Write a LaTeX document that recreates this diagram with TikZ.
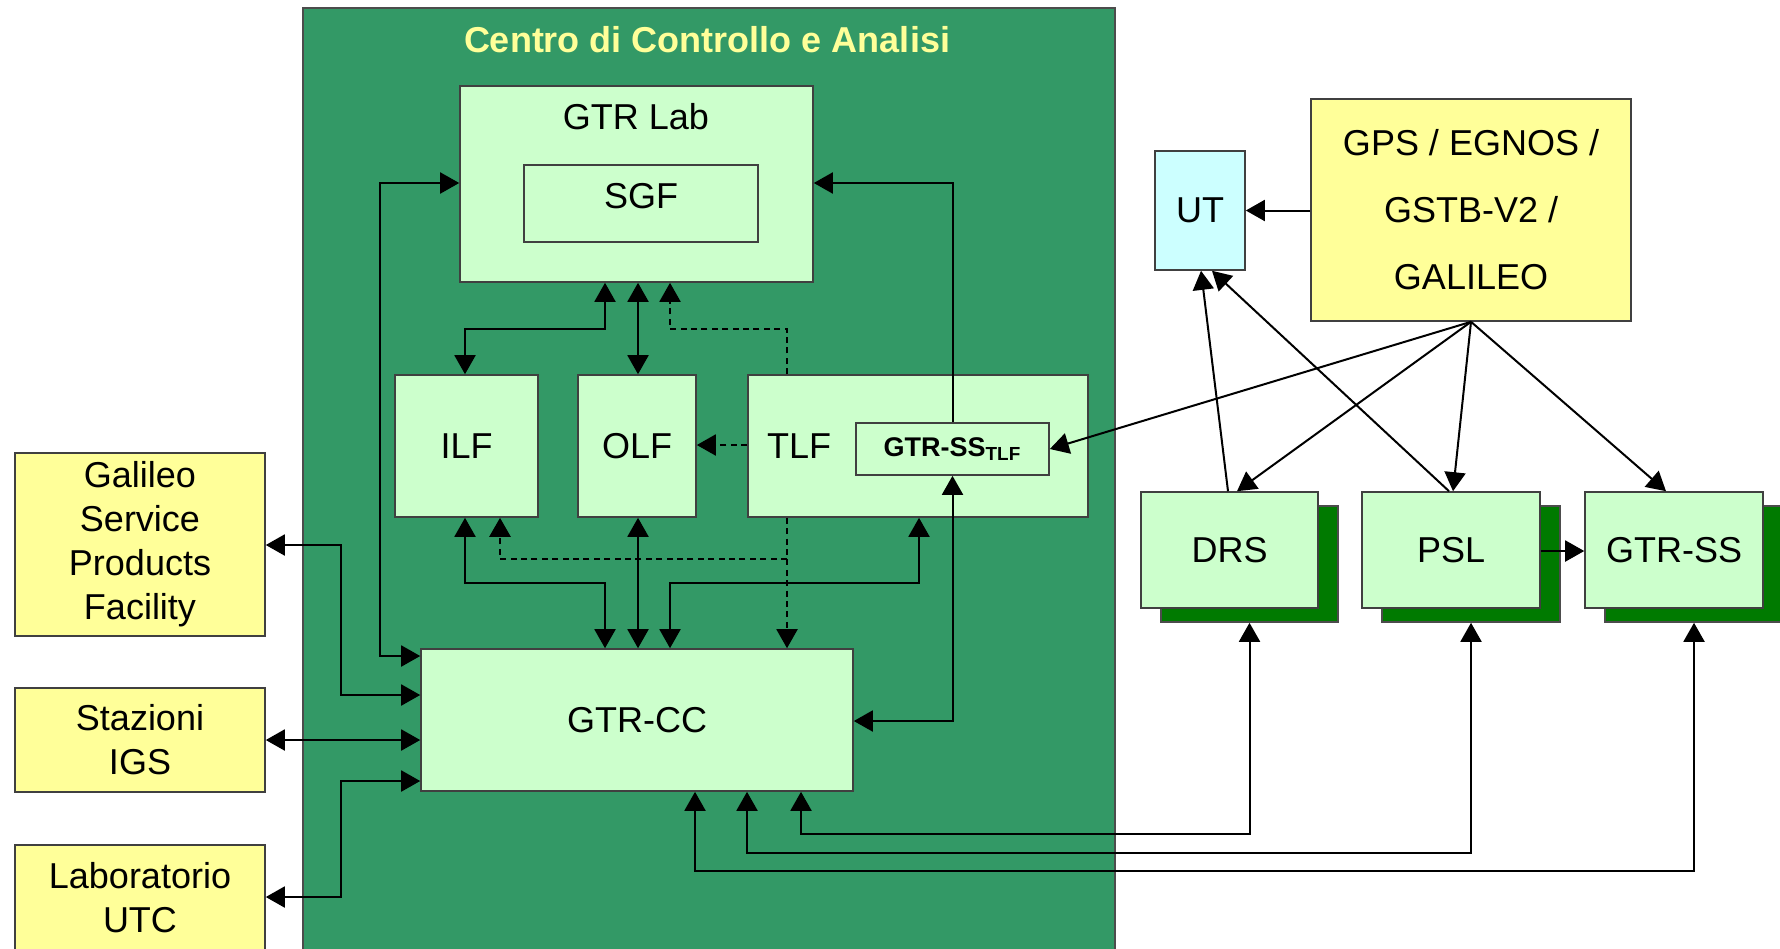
\documentclass[tikz,border=0pt]{standalone}
\usepackage{fontspec}
\setmainfont{Liberation Sans}
\usetikzlibrary{arrows.meta}
\definecolor{bigg}{HTML}{339966}
\definecolor{lg}{HTML}{CCFFCC}
\definecolor{yel}{HTML}{FFFF99}
\definecolor{cy}{HTML}{CCFFFF}
\definecolor{shd}{HTML}{007A00}
\begin{document}
\begin{tikzpicture}[x=0.5pt,y=-0.5pt,
  box/.style={draw=black!75, line width=0.8pt, fill=lg, inner sep=0pt,
    font=\fontsize{18}{22}\selectfont, align=center},
  ybox/.style={box, fill=yel},
  shad/.style={draw=black!70, line width=0.8pt, fill=shd, inner sep=0pt},
  lbl/.style={inner sep=0pt, font=\fontsize{18}{22}\selectfont, align=center},
  arr/.style={line width=1pt, -{Triangle[length=9.5pt,width=10.5pt]}},
  barr/.style={line width=1pt, {Triangle[length=9.5pt,width=10.5pt]}-{Triangle[length=9.5pt,width=10.5pt]}},
  dsh/.style={dash pattern=on 3pt off 2.2pt}
]
\path[use as bounding box] (0,0) rectangle (1780,948);
\clip (0,0) rectangle (1780,948);
\fill[white] (0,0) rectangle (1780,948);

% big green area
\node[minimum width=406pt, minimum height=496pt, fill=bigg, draw=black!70, line width=0.8pt, inner sep=0pt] (cca) at (709,504) {};
\node[lbl, text=yel, font=\bfseries\fontsize{18}{22}\selectfont] (ttl) at (707,40) {Centro di Controllo e Analisi};

% inner boxes
\node[box, minimum width=176.5pt, minimum height=98pt] (lab) at (636.5,184) {};
\node[lbl] (labt) at (636,117) {GTR Lab};
\node[box, minimum width=117pt, minimum height=38.5pt] (sgf) at (641,203.5) {};
\node[lbl] (sgft) at (641,196) {SGF};
\node[box, minimum width=71.5pt, minimum height=71pt] (ilf) at (466.5,446) {ILF};
\node[box, minimum width=59pt, minimum height=71pt] (olf) at (637,446) {OLF};
\node[box, minimum width=170pt, minimum height=71pt] (tlf) at (918,446) {};
\node[lbl] (tlft) at (799,446) {TLF};
\node[box, minimum width=96.5pt, minimum height=26pt, font=\bfseries\fontsize{13.5}{15}\selectfont] (sstlf) at (952.5,449) {GTR-SS\textsubscript{TLF}};
\node[box, minimum width=216pt, minimum height=71pt] (cc) at (637,720) {GTR-CC};

% left boxes
\node[ybox, minimum width=125pt, minimum height=91.5pt] (gspf) at (140,544.5) {Galileo\\Service\\Products\\Facility};
\node[ybox, minimum width=125pt, minimum height=52pt] (igs) at (140,740) {Stazioni\\IGS};
\node[ybox, minimum width=125pt, minimum height=52.5pt] (utc) at (140,897.5) {Laboratorio\\UTC};

% right boxes
\node[box, fill=cy, minimum width=45pt, minimum height=59.5pt] (ut) at (1200,210.5) {UT};
\node[ybox, minimum width=160pt, minimum height=111pt, font=\fontsize{18}{33.5}\selectfont] (gps) at (1471,210) {GPS / EGNOS /\\GSTB-V2 /\\GALILEO};
\node[shad, minimum width=88.5pt, minimum height=58pt] (drssh) at (1249.5,564) {};
\node[box, minimum width=88.5pt, minimum height=58pt] (drs) at (1229.5,550) {DRS};
\node[shad, minimum width=89pt, minimum height=58pt] (pslsh) at (1471,564) {};
\node[box, minimum width=89pt, minimum height=58pt] (psl) at (1451,550) {PSL};
\node[shad, minimum width=89pt, minimum height=58pt] (gsssh) at (1694,564) {};
\node[box, minimum width=89pt, minimum height=58pt] (gss) at (1674,550) {GTR-SS};

% connectors inside
\draw[barr] (lab.west |- 0,183) -- (380,183) -- (380,656) -- (cc.west |- 0,656);
\draw[arr] (sstlf.north) -- (sstlf.north |- 0,183) -- (lab.east |- 0,183);
\draw[barr] (sstlf.south) -- (sstlf.south |- 0,721) -- (cc.east |- 0,721);
\draw[barr] (lab.south -| 605,0) -- (605,329) -- (465,329) -- (ilf.north -| 465,0);
\draw[barr] (lab.south -| 638,0) -- (olf.north -| 638,0);
\draw[arr,dsh] (tlf.north -| 787,0) -- (787,329) -- (670,329) -- (lab.south -| 670,0);
\draw[arr,dsh] (tlf.west |- 0,445) -- (olf.east |- 0,445);
\draw[barr] (ilf.south -| 465,0) -- (465,583) -- (605,583) -- (cc.north -| 605,0);
\draw[barr] (olf.south -| 638,0) -- (cc.north -| 638,0);
\draw[barr] (tlf.south -| 919,0) -- (919,583) -- (670,583) -- (cc.north -| 670,0);
\draw[arr,dsh] (tlf.south -| 787,0) -- (cc.north -| 787,0);
\draw[arr,line width=1.3pt,dsh] (787,559) -- (500,559) -- (ilf.south -| 500,0);

% left connectors
\draw[barr] (gspf.east |- 0,545) -- (341,545) -- (341,695) -- (cc.west |- 0,695);
\draw[barr] (igs.east |- 0,740) -- (cc.west |- 0,740);
\draw[barr] (utc.east |- 0,897) -- (341,897) -- (341,781) -- (cc.west |- 0,781);

% bottom connectors
\draw[barr] (cc.south -| 801,0) -- (801,834) -| (drssh.south);
\draw[barr] (cc.south -| 747,0) -- (747,853) -| (pslsh.south);
\draw[barr] (cc.south -| 695,0) -- (695,871) -| (gsssh.south);

% right connectors
\draw[arr] (gps.west |- ut.east) -- (ut.east);
\draw[arr] (gps.south) -- (sstlf.east);
\draw[arr] (gps.south) -- (drs.north -| 1237,0);
\draw[arr] (gps.south) -- (psl.north -| 1453,0);
\draw[arr] (gps.south) -- (gss.north -| 1666,0);
\draw[arr] (drs.north -| 1228,0) -- (ut.south -| 1201,0);
\draw[arr] (psl.north -| 1449,0) -- (ut.south -| 1212,0);
\draw[arr] (psl.east |- 0,551) -- (gss.west |- 0,551);
\end{tikzpicture}
\end{document}
